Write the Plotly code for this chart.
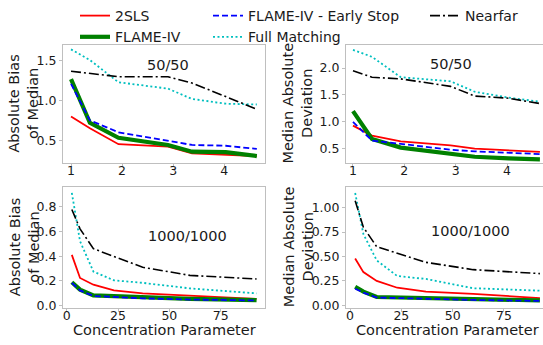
import plotly.graph_objects as go

W, H = 543, 345

# ---------------- data ----------------
x_top = [1.0, 1.37, 1.93, 2.9, 3.37, 4.03, 4.64]
x_bot = [2.5, 6.5, 13, 23, 37, 60, 92.5]

# top-left: Absolute bias of median, 50/50
tl_2sls = [0.80, 0.65, 0.45, 0.42, 0.335, 0.32, 0.30]
tl_flame = [1.27, 0.72, 0.53, 0.44, 0.355, 0.35, 0.30]
tl_early = [1.21, 0.75, 0.60, 0.49, 0.44, 0.43, 0.39]
tl_full = [1.645, 1.51, 1.23, 1.15, 1.02, 0.96, 0.95]
tl_near = [1.37, 1.345, 1.30, 1.30, 1.22, 1.05, 0.89]

# top-right: Median absolute deviation, 50/50
tr_2sls = [0.93, 0.745, 0.635, 0.56, 0.50, 0.47, 0.44]
tr_flame = [1.20, 0.68, 0.52, 0.41, 0.35, 0.32, 0.30]
tr_early = [1.0, 0.65, 0.59, 0.48, 0.45, 0.42, 0.40]
tr_full = [2.34, 2.21, 1.83, 1.755, 1.56, 1.45, 1.375]
tr_near = [1.95, 1.83, 1.80, 1.66, 1.48, 1.44, 1.34]

# bottom-left: Absolute bias of median, 1000/1000
bl_2sls = [0.41, 0.224, 0.17, 0.124, 0.10, 0.08, 0.055]
bl_flame = [0.19, 0.13, 0.084, 0.078, 0.068, 0.055, 0.045]
bl_early = [0.184, 0.124, 0.079, 0.072, 0.06, 0.05, 0.043]
bl_full = [0.91, 0.52, 0.276, 0.205, 0.185, 0.14, 0.10]
bl_near = [0.776, 0.62, 0.46, 0.40, 0.31, 0.245, 0.216]

# bottom-right: Median absolute deviation, 1000/1000
br_2sls = [0.48, 0.34, 0.25, 0.18, 0.14, 0.117, 0.074]
br_flame = [0.19, 0.14, 0.085, 0.08, 0.07, 0.06, 0.05]
br_early = [0.17, 0.13, 0.08, 0.075, 0.065, 0.055, 0.045]
br_full = [1.15, 0.73, 0.46, 0.30, 0.27, 0.175, 0.15]
br_near = [1.07, 0.80, 0.60, 0.53, 0.44, 0.365, 0.325]

series_names = ["2SLS", "FLAME-IV", "FLAME-IV - Early Stop", "Full Matching", "Nearfar"]
panel_titles = ["50/50", "50/50", "1000/1000", "1000/1000"]
ytitles = ["Absolute Bias<br>of Median", "Median Absolute<br>Deviation",
           "Absolute Bias<br>of Median", "Median Absolute<br>Deviation"]
xtitle = "Concentration Parameter"

ticks_top_x = [1, 2, 3, 4]
ticks_bot_x = [0, 25, 50, 75]
ticks_tl_y = [0.5, 1.0, 1.5]
ticks_tr_y = [0.5, 1.0, 1.5, 2.0]
ticks_bl_y = [0.0, 0.2, 0.4, 0.6, 0.8]
ticks_br_y = [0.0, 0.25, 0.5, 0.75, 1.0]

# ---------------- styles ----------------
FONT = "DejaVu Sans"
TXT = "#1a1a1a"
styles = [
    dict(color="#ff0000", width=1.8, dash="solid"),
    dict(color="#008000", width=4.2, dash="solid"),
    dict(color="#0000ff", width=1.8, dash="6px,3px"),
    dict(color="#00bfbf", width=1.8, dash="2px,2.5px"),
    dict(color="#000000", width=1.6, dash="10px,3px,2px,3px"),
]
legend_ids = ["legend", "legend", "legend2", "legend2", "legend3"]

panels = [
    ("x", "y", x_top, [tl_2sls, tl_flame, tl_early, tl_full, tl_near]),
    ("x2", "y2", x_top, [tr_2sls, tr_flame, tr_early, tr_full, tr_near]),
    ("x3", "y3", x_bot, [bl_2sls, bl_flame, bl_early, bl_full, bl_near]),
    ("x4", "y4", x_bot, [br_2sls, br_flame, br_early, br_full, br_near]),
]

fig = go.Figure()
for pi, (xa, ya, xs, ys_list) in enumerate(panels):
    for si, ys in enumerate(ys_list):
        fig.add_trace(go.Scatter(
            x=xs, y=ys, mode="lines", name=series_names[si],
            line=styles[si], xaxis=xa, yaxis=ya,
            showlegend=(pi == 0), legend=legend_ids[si],
        ))

def px_x(p):
    return p / W

def px_y(p):
    return 1 - p / H

dom_x_left = [px_x(63), px_x(265)]
dom_x_right = [px_x(346), 1.0]
dom_y_top = [px_y(164), px_y(43)]
dom_y_bot = [px_y(312), px_y(188)]

FRAME = "#bfbfbf"

def xaxis(dom, rng, ticks, fmt, anchor, mirror=True):
    return dict(domain=dom, range=rng, anchor=anchor, tickvals=ticks, tickformat=fmt,
                showgrid=False, zeroline=False, showline=True, linecolor=FRAME, linewidth=1,
                mirror=mirror, ticks="outside", ticklen=3, tickcolor=FRAME,
                ticklabelposition="outside", ticklabelstandoff=-7,
                tickfont=dict(family=FONT, size=12.5, color=TXT))

def yaxis(dom, rng, ticks, fmt, anchor, mirror=True):
    return dict(domain=dom, range=rng, anchor=anchor, tickvals=ticks, tickformat=fmt,
                showgrid=False, zeroline=False, showline=True, linecolor=FRAME, linewidth=1,
                mirror=mirror, ticks="outside", ticklen=3, tickcolor=FRAME,
                tickfont=dict(family=FONT, size=12.5, color=TXT))

layout = dict(
    width=W, height=H,
    margin=dict(l=0, r=0, t=0, b=0),
    paper_bgcolor="white", plot_bgcolor="white",
    font=dict(family=FONT, color=TXT),
    xaxis=xaxis(dom_x_left, [0.843, 4.80], ticks_top_x, "d", "y"),
    yaxis=yaxis(dom_y_top, [0.21, 1.70], ticks_tl_y, ".1f", "x"),
    xaxis2=xaxis(dom_x_right, [0.864, 4.70], ticks_top_x, "d", "y2"),
    yaxis2=yaxis(dom_y_top, [0.23, 2.43], ticks_tr_y, ".1f", "x2", mirror=False),
    xaxis3=xaxis(dom_x_left, [-1.8, 96.6], ticks_bot_x, "d", "y3"),
    yaxis3=yaxis(dom_y_bot, [-0.016, 0.96], ticks_bl_y, ".1f", "x3"),
    xaxis4=xaxis(dom_x_right, [-1.96, 94.0], ticks_bot_x, "d", "y4"),
    yaxis4=yaxis(dom_y_bot, [-0.025, 1.215], ticks_br_y, ".2f", "x4", mirror=False),
)

leg_common = dict(orientation="v", xanchor="left", yanchor="top", bgcolor="rgba(0,0,0,0)",
                  font=dict(family=FONT, size=14, color=TXT), tracegroupgap=0,
                  itemwidth=30)
layout["legend"] = dict(leg_common, x=px_x(75), y=px_y(-3.5))
layout["legend2"] = dict(leg_common, x=px_x(208), y=px_y(-3.5))
layout["legend3"] = dict(leg_common, x=px_x(425), y=px_y(-3.5))

annotations = []
# panel titles
for (tx, ty), t in zip([(168, 63), (451, 62), (187, 239), (470, 233)], panel_titles):
    annotations.append(dict(x=px_x(tx), y=px_y(ty), xref="paper", yref="paper", text=t,
                            showarrow=False, xanchor="center", yanchor="middle",
                            font=dict(family=FONT, size=14.5, color=TXT)))
# y titles
for (tx, ty), t in zip([(24, 103), (298, 103), (24, 250), (298, 250)], ytitles):
    annotations.append(dict(x=px_x(tx), y=px_y(ty), xref="paper", yref="paper", text=t,
                            showarrow=False, xanchor="center", yanchor="middle", textangle=-90,
                            font=dict(family=FONT, size=14.5, color=TXT)))
# x titles
for tx in [164, 447]:
    annotations.append(dict(x=px_x(tx), y=px_y(334.5), xref="paper", yref="paper", text=xtitle,
                            showarrow=False, xanchor="center", yanchor="middle",
                            font=dict(family=FONT, size=14.5, color=TXT)))
layout["annotations"] = annotations

fig.update_layout(**layout)
fig.write_html("out.html", config={"displayModeBar": False},
               post_script="document.body.style.margin='0';document.body.style.padding='0';")
